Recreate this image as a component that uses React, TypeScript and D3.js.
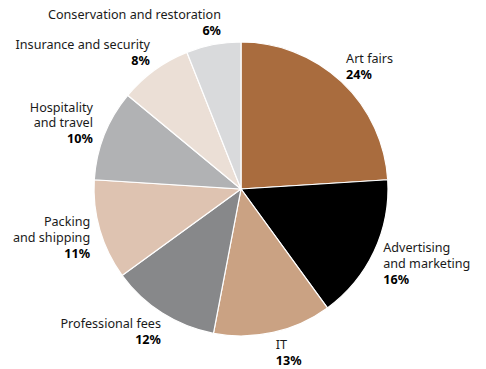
import React from "react"
import * as d3 from "d3"

const categories = [
  "Art fairs",
  "Advertising\nand marketing",
  "IT",
  "Professional fees",
  "Packing\nand shipping",
  "Hospitality\nand travel",
  "Insurance and security",
  "Conservation and restoration"
]
const shares = [24, 16, 13, 12, 11, 10, 8, 6]
const colors = [
  "#a96c3e",
  "#000000",
  "#caa283",
  "#87888a",
  "#dec3b1",
  "#b1b2b4",
  "#ebdfd6",
  "#d9dadc"
]

// small hand nudges for the label blocks (layout only)
const labelNudge = [
  [-1, 3],
  [2, 0],
  [1, -2],
  [3, 0],
  [-2, 0],
  [-4, 1],
  [0, 3],
  [9, 3]
]

const width = 486
const height = 369
const cx = 241
const cy = 189
const radius = 147
const lineH = 15.8

export default function App() {
  const pie = d3.pie<number>().sort(null).value((d) => d)
  const arcs = pie(shares)
  const arcGen = d3.arc<d3.PieArcDatum<number>>().innerRadius(0).outerRadius(radius)

  return (
    <svg
      width={width}
      height={height}
      style={{ position: "absolute", left: 0, top: 0, fontFamily: "'Noto Sans', sans-serif" }}
    >
      <rect width={width} height={height} fill="#fff" />
      <g transform={`translate(${cx},${cy})`}>
        {arcs.map((a, i) => (
          <path key={i} d={arcGen(a) || ""} fill={colors[i]} stroke="#fff" strokeWidth={1.2} />
        ))}
        {arcs.map((a, i) => {
          const mid = (a.startAngle + a.endAngle) / 2
          const r = radius + 8
          const px = r * Math.sin(mid) + labelNudge[i][0]
          const py = -r * Math.cos(mid)
          const lines = categories[i].split("\n")
          const h = (lines.length + 1) * lineH
          const top = py - h / 2 - (h / 2) * Math.cos(mid) + labelNudge[i][1]
          const anchor = Math.sin(mid) >= 0 ? "start" : "end"
          return (
            <text key={i} x={px} y={top + 11} textAnchor={anchor} fontSize={12.6} fill="#1a1a1a">
              {lines.map((l, j) => (
                <tspan key={j} x={px} dy={j === 0 ? 0 : lineH}>{l}</tspan>
              ))}
              <tspan x={px} dy={lineH} fontWeight="bold" fill="#000">{shares[i]}%</tspan>
            </text>
          )
        })}
      </g>
    </svg>
  )
}
